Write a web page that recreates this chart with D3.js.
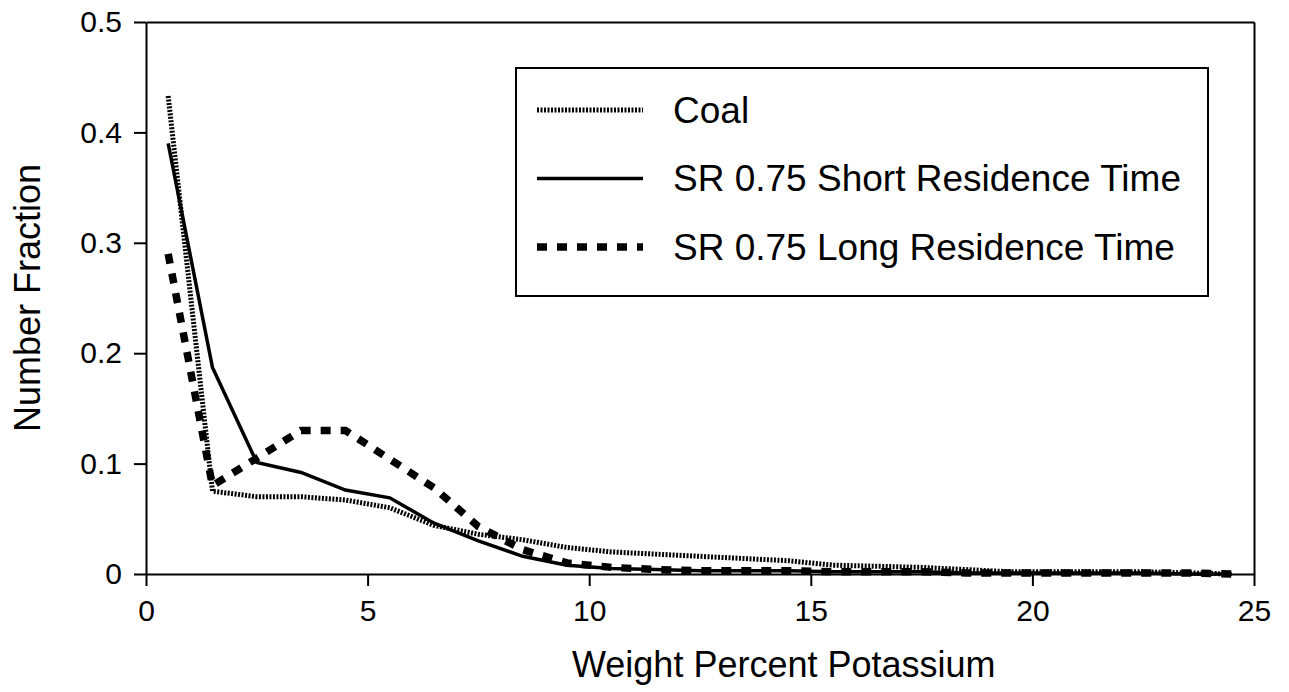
<!DOCTYPE html>
<html>
<head>
<meta charset="utf-8">
<script src="https://cdn.jsdelivr.net/npm/d3@7"></script>
<style>
  body { margin: 0; background: #fff; }
  text { font-family: "Liberation Sans", Arial, Helvetica, sans-serif; fill: #000; }
  .axis path, .axis line { stroke: #000; stroke-width: 2; }
  .axis text { font-size: 30px; }
</style>
</head>
<body>
<div id="chart-area"></div>
<script>

// Data
let binCenters = [0.5, 1.5, 2.5, 3.5, 4.5, 5.5, 6.5, 7.5, 8.5, 9.5, 10.5, 11.5, 12.5,
                  13.5, 14.5, 15.5, 16.5, 17.5, 18.5, 19.5, 20.5, 21.5, 22.5, 23.5, 24.5];
let coal = [0.433, 0.075, 0.070, 0.070, 0.067, 0.060, 0.044, 0.036, 0.031, 0.024, 0.020, 0.018, 0.016,
            0.014, 0.012, 0.008, 0.007, 0.006, 0.004, 0.002, 0.002, 0.002, 0.002, 0.001, 0.000];
let shortRes = [0.390, 0.187, 0.101, 0.092, 0.076, 0.069, 0.046, 0.030, 0.016, 0.008, 0.005, 0.004, 0.003,
                0.003, 0.003, 0.002, 0.002, 0.002, 0.001, 0.001, 0.001, 0.001, 0.001, 0.000, 0.000];
let longRes = [0.290, 0.080, 0.105, 0.130, 0.130, 0.104, 0.078, 0.043, 0.022, 0.010, 0.006, 0.004, 0.003,
               0.003, 0.003, 0.002, 0.002, 0.002, 0.001, 0.001, 0.001, 0.001, 0.001, 0.001, 0.000];
let seriesNames = ["Coal", "SR 0.75 Short Residence Time", "SR 0.75 Long Residence Time"];
let xTicks = [0, 5, 10, 15, 20, 25];
let yTicks = [0, 0.1, 0.2, 0.3, 0.4, 0.5];

// SVG drawing area
let margin = {top: 22, right: 35, bottom: 118, left: 146};
let width = 1289 - margin.left - margin.right,
    height = 692 - margin.top - margin.bottom;

let svg = d3.select("#chart-area").append("svg")
    .attr("width", width + margin.left + margin.right)
    .attr("height", height + margin.top + margin.bottom)
    .append("g")
    .attr("transform", "translate(" + margin.left + "," + margin.top + ")");

// Scales
let x = d3.scaleLinear().domain([0, 25]).range([0, width]);
let y = d3.scaleLinear().domain([0, 0.5]).range([height, 0]);

// Axes
let xAxis = d3.axisBottom(x).tickValues(xTicks).tickFormat(d3.format("d"))
    .tickSize(12).tickSizeOuter(0).tickPadding(14);
let yAxis = d3.axisLeft(y).tickValues(yTicks).tickFormat(d => d === 0 ? "0" : d3.format(".1f")(d))
    .tickSize(12).tickSizeOuter(0).tickPadding(12);

svg.append("g")
    .attr("class", "axis x-axis")
    .attr("transform", "translate(0," + height + ")")
    .call(xAxis);
svg.append("g")
    .attr("class", "axis y-axis")
    .call(yAxis);

// frame top and right
svg.append("g").attr("class", "axis")
    .call(d3.axisTop(x).tickValues([]).tickSizeOuter(0));
svg.append("g").attr("class", "axis")
    .attr("transform", "translate(" + width + ",0)")
    .call(d3.axisRight(y).tickValues([]).tickSizeOuter(0));

// Lines
let styles = [
  {data: coal, width: 5, dash: "2,1.5"},
  {data: shortRes, width: 3.5, dash: null},
  {data: longRes, width: 7.5, dash: "10,10"}
];

let line = d3.line()
    .x((d, i) => x(binCenters[i]))
    .y(d => y(d));

styles.forEach(s => {
  svg.append("path")
    .datum(s.data)
    .attr("fill", "none")
    .attr("stroke", "#000")
    .attr("stroke-width", s.width)
    .attr("stroke-dasharray", s.dash)
    .attr("d", line);
});

// Legend
let legend = svg.append("g")
    .attr("transform", "translate(" + (516 - margin.left) + "," + (68 - margin.top) + ")");
legend.append("rect")
    .attr("width", 692).attr("height", 228)
    .attr("fill", "#fff").attr("stroke", "#000").attr("stroke-width", 2);

styles.forEach((s, i) => {
  let ly = 42 + i * 68.5;
  legend.append("line")
    .attr("x1", 21).attr("x2", 127)
    .attr("y1", ly).attr("y2", ly)
    .attr("stroke", "#000")
    .attr("stroke-width", s.width)
    .attr("stroke-dasharray", s.dash);
  legend.append("text")
    .attr("x", 157).attr("y", ly)
    .attr("dy", "0.35em")
    .style("font-size", "37px")
    .text(seriesNames[i]);
});

// Axis titles
svg.append("text")
    .attr("x", 572 - margin.left)
    .attr("y", 677 - margin.top)
    .style("font-size", "36px")
    .text("Weight Percent Potassium");

svg.append("text")
    .attr("transform", "translate(" + (40 - margin.left) + "," + (height / 2) + ") rotate(-90)")
    .attr("text-anchor", "middle")
    .style("font-size", "36px")
    .text("Number Fraction");

</script>
</body>
</html>
